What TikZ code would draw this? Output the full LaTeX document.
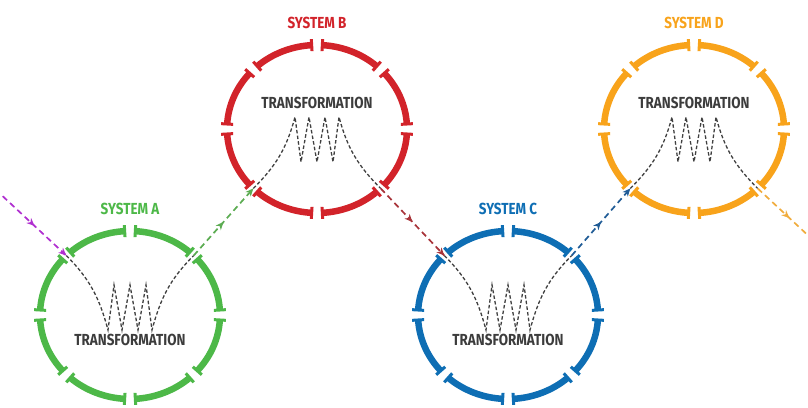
\documentclass[tikz,border=0pt]{standalone}
\usepackage{fontspec}
\newfontfamily\sysfont[FakeStretch=0.84]{Fira Sans}
\usetikzlibrary{calc}
\definecolor{sysA}{RGB}{77,184,72}
\definecolor{sysB}{RGB}{210,35,42}
\definecolor{sysC}{RGB}{14,110,180}
\definecolor{sysD}{RGB}{248,163,27}
\definecolor{linkA}{RGB}{92,172,82}
\definecolor{linkB}{RGB}{168,52,58}
\definecolor{linkC}{RGB}{32,92,150}
\definecolor{linkD}{RGB}{240,172,62}
\definecolor{linkIn}{RGB}{176,48,208}
\definecolor{innergray}{RGB}{64,64,64}
\definecolor{textgray}{RGB}{60,60,60}

\begin{document}
\begin{tikzpicture}[x=1pt,y=1pt,
  ring/.style={line width=6.5pt},
  ringbar/.style={line width=3pt},
  inner/.style={draw=innergray,line width=1.3pt,dash pattern=on 3.5pt off 2.2pt},
  link/.style={line width=1.7pt,dash pattern=on 6pt off 4pt},
  title/.style={font=\sysfont\bfseries\fontsize{16}{16}\selectfont,inner sep=0pt}]
\useasboundingbox (0,0) rectangle (808,407);
\clip (0,0) rectangle (808,407);

\foreach \s/\c/\x/\y in {A/sysA/130/92,B/sysB/317/278,C/sysC/508/92,D/sysD/694/278} {
  \coordinate (\s) at (\x,\y);
  \foreach \a [evaluate=\a as \b using \a+3.4, evaluate=\a as \e using \a+41.6,
               evaluate=\a as \f using \a-3.4] in {0,45,...,315} {
    \draw[ring,\c] ($(\s)+({90*cos(\b)},{84*sin(\b)})$)
      arc[start angle=\b,end angle=\e,x radius=90,y radius=84];
    \draw[ringbar,\c] ($(\s)+({84*cos(\b)},{78*sin(\b)})$) -- ($(\s)+({96*cos(\b)},{90*sin(\b)})$);
    \draw[ringbar,\c] ($(\s)+({84*cos(\f)},{78*sin(\f)})$) -- ($(\s)+({96*cos(\f)},{90*sin(\f)})$);
  }
  \foreach \a in {45,135,225,315}
    \coordinate (\s-\a) at ($(\s)+({90*cos(\a)},{84*sin(\a)})$);
  \node[title,text=\c] (\s-title) at ($(\s)+(0,106)$) {SYSTEM \s};
}

\node[title,text=textgray] (A-label) at ($(A)+(0,-25)$) {TRANSFORMATION};
\node[title,text=textgray] (B-label) at ($(B)+(0,26)$) {TRANSFORMATION};
\node[title,text=textgray] (C-label) at ($(C)+(0,-25)$) {TRANSFORMATION};
\node[title,text=textgray] (D-label) at ($(D)+(0,26)$) {TRANSFORMATION};

\foreach \s in {A,C}
  \draw[inner] (\s-135) to[out=-45,in=105] ($(\s)+(-22,-15)$) -- ($(\s)+(-16,30)$)
    -- ($(\s)+(-8,-15)$) -- ($(\s)+(0,30)$) -- ($(\s)+(8,-15)$)
    -- ($(\s)+(16,30)$) -- ($(\s)+(22,-15)$) to[out=75,in=-135] (\s-45);
\foreach \s in {B,D}
  \draw[inner] (\s-225) to[out=45,in=-105] ($(\s)+(-22,12)$) -- ($(\s)+(-16,-33)$)
    -- ($(\s)+(-8,12)$) -- ($(\s)+(0,-33)$) -- ($(\s)+(8,12)$)
    -- ($(\s)+(16,-33)$) -- ($(\s)+(22,12)$) to[out=-75,in=135] (\s-315);

\coordinate (entry) at ($(A)+(-127.3,118.8)$);
\coordinate (exit) at ($(D)+(127.3,-118.8)$);
\foreach \p/\q/\c in {entry/A-135/linkIn,A-45/B-225/linkA,B-315/C-135/linkB,
                      C-45/D-225/linkC,D-315/exit/linkD} {
  \draw[link,\c] (\p) -- (\q);
  \foreach \t in {0.5,1} {
    \coordinate (m) at ($(\p)!\t!(\q)$);
    \fill[\c] (m) -- ($(m)!8pt!(\p)!3.5pt!90:(\p)$) -- ($(m)!5.5pt!(\p)$)
      -- ($(m)!8pt!(\p)!3.5pt!-90:(\p)$) -- cycle;
  }
}
\end{tikzpicture}
\end{document}
